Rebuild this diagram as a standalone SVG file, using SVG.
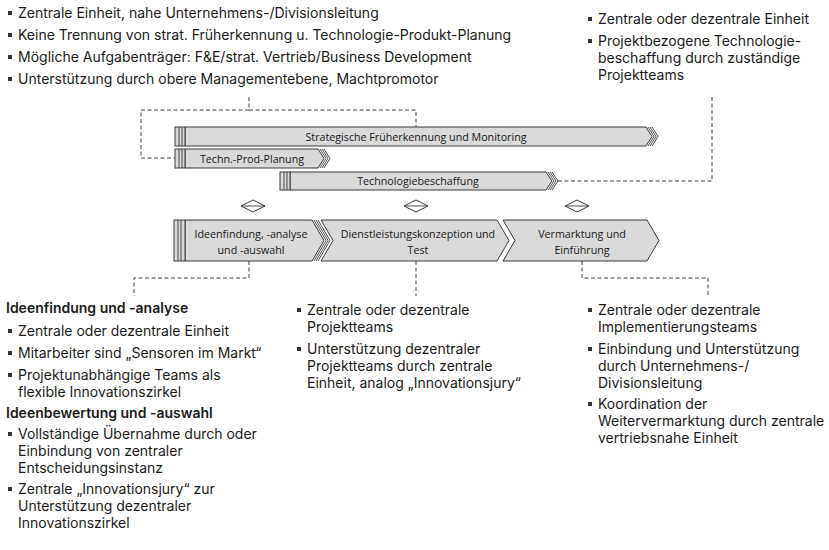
<svg xmlns="http://www.w3.org/2000/svg" width="829" height="550" viewBox="0 0 829 550">
<defs>
<style>
text{font-family:"Open Sans","Noto Sans","Liberation Sans",sans-serif;fill:#1a1a1a}
.t{font-family:Inter,"Open Sans","Liberation Sans",sans-serif;font-size:14px}
.h{font-family:Inter,"Open Sans","Liberation Sans",sans-serif;font-size:14px;font-weight:600}
.b{font-size:10.7px;text-anchor:middle}
.bar{fill:#d9d9d9;stroke:#3a3a3a;stroke-width:1}
.cap{fill:#d9d9d9;stroke:#3a3a3a;stroke-width:1}
.hatch{fill:none;stroke:#3a3a3a;stroke-width:0.9}
.dash{fill:none;stroke:#404040;stroke-width:1;stroke-dasharray:4 2.5}
.dia{fill:#fff;stroke:#3a3a3a;stroke-width:1}
.sq{fill:#333}
</style>
<symbol id="bul" overflow="visible"><rect class="sq" x="0" y="-7" width="4" height="4"/></symbol>
</defs>

<g id="connectors">
<polyline class="dash" points="249,97 249,110 416,110 416,127"/>
<polyline class="dash" points="249,110 141,110 141,158 175,158"/>
<polyline class="dash" points="558,181 712,181 712,97"/>
<polyline class="dash" points="249,261 249,278 134,278 134,296"/>
<polyline class="dash" points="416,261 416,296"/>
<polyline class="dash" points="582,261 582,278 708,278 708,296"/>
</g>

<g id="note-top-left">
<use href="#bul" x="8" y="18"/><text class="t" x="18" y="18">Zentrale Einheit, nahe Unternehmens-/Divisionsleitung</text>
<use href="#bul" x="8" y="40"/><text class="t" x="18" y="40">Keine Trennung von strat. Früherkennung u. Technologie-Produkt-Planung</text>
<use href="#bul" x="8" y="62"/><text class="t" x="18" y="62">Mögliche Aufgabenträger: F&amp;E/strat. Vertrieb/Business Development</text>
<use href="#bul" x="8" y="84"/><text class="t" x="18" y="84">Unterstützung durch obere Managementebene, Machtpromotor</text>
</g>

<g id="note-top-right">
<use href="#bul" x="588" y="24"/><text class="t" x="598" y="24">Zentrale oder dezentrale Einheit</text>
<use href="#bul" x="588" y="46"/><text class="t" x="598" y="46">Projektbezogene Technologie-</text>
<text class="t" x="598" y="63">beschaffung durch zuständige</text>
<text class="t" x="598" y="80">Projektteams</text>
</g>

<g id="bar-monitoring">
<polygon class="bar" points="185,127 646,127 652,136.5 646,146 185,146"/>
<polyline class="hatch" points="648,127 654,136.5 648,146"/>
<polyline class="hatch" points="650,127 656,136.5 650,146"/>
<polyline class="hatch" points="652,127 658,136.5 652,146"/>
<rect class="cap" x="175" y="127" width="10" height="19"/>
<line class="hatch" x1="179" y1="127" x2="179" y2="146"/>
<line class="hatch" x1="182" y1="127" x2="182" y2="146"/>
<text class="b" x="416" y="140.5">Strategische Früherkennung und Monitoring</text>
</g>

<g id="bar-planung">
<polygon class="bar" points="185,149 318,149 324,158.5 318,168 185,168"/>
<polyline class="hatch" points="320,149 326,158.5 320,168"/>
<polyline class="hatch" points="322,149 328,158.5 322,168"/>
<polyline class="hatch" points="324,149 330,158.5 324,168"/>
<rect class="cap" x="175" y="149" width="10" height="19"/>
<line class="hatch" x1="179" y1="149" x2="179" y2="168"/>
<line class="hatch" x1="182" y1="149" x2="182" y2="168"/>
<text class="b" x="252" y="162.5">Techn.-Prod-Planung</text>
</g>

<g id="bar-beschaffung">
<polygon class="bar" points="290,172 546,172 552,181 546,190 290,190"/>
<polyline class="hatch" points="548,172 554,181 548,190"/>
<polyline class="hatch" points="550,172 556,181 550,190"/>
<polyline class="hatch" points="552,172 558,181 552,190"/>
<rect class="cap" x="280" y="172" width="10" height="18"/>
<line class="hatch" x1="284" y1="172" x2="284" y2="190"/>
<line class="hatch" x1="287" y1="172" x2="287" y2="190"/>
<text class="b" x="418" y="185">Technologiebeschaffung</text>
</g>

<g id="diamonds">
<polygon class="dia" points="241,206 253,200 265,206 253,212"/><line class="hatch" x1="241" y1="206" x2="265" y2="206"/>
<polygon class="dia" points="404,206 416,200 428,206 416,212"/><line class="hatch" x1="404" y1="206" x2="428" y2="206"/>
<polygon class="dia" points="565,206 577,200 589,206 577,212"/><line class="hatch" x1="565" y1="206" x2="589" y2="206"/>
</g>

<g id="phase-ideen">
<polygon class="bar" points="185,220 312,220 324,240.5 312,261 185,261"/>
<polyline class="hatch" points="314,220 326,240.5 314,261"/>
<polyline class="hatch" points="316,220 328,240.5 316,261"/>
<polyline class="hatch" points="318,220 330,240.5 318,261"/>
<rect class="cap" x="174" y="220" width="11" height="41"/>
<line class="hatch" x1="178" y1="220" x2="178" y2="261"/>
<line class="hatch" x1="181" y1="220" x2="181" y2="261"/>
<text class="b" x="251" y="237.5">Ideenfindung, -analyse</text>
<text class="b" x="251" y="254">und -auswahl</text>
</g>

<g id="phase-dienst">
<polygon class="bar" points="321,220 497,220 509,240.5 497,261 321,261 333,240.5"/>
<text class="b" x="418" y="237.5">Dienstleistungskonzeption und</text>
<text class="b" x="418" y="254">Test</text>
</g>

<g id="phase-vermarktung">
<polygon class="bar" points="503,220 647,220 659,240.5 647,261 503,261 515,240.5"/>
<text class="b" x="582" y="237.5">Vermarktung und</text>
<text class="b" x="582" y="254">Einführung</text>
</g>

<g id="note-bottom-left">
<text class="h" x="6" y="313">Ideenfindung und -analyse</text>
<use href="#bul" x="8" y="336"/><text class="t" x="18" y="336">Zentrale oder dezentrale Einheit</text>
<use href="#bul" x="8" y="358"/><text class="t" x="18" y="358">Mitarbeiter sind „Sensoren im Markt“</text>
<use href="#bul" x="8" y="380"/><text class="t" x="18" y="380">Projektunabhängige Teams als</text>
<text class="t" x="18" y="397">flexible Innovationszirkel</text>
<text class="h" x="6" y="418">Ideenbewertung und -auswahl</text>
<use href="#bul" x="8" y="439"/><text class="t" x="18" y="439">Vollständige Übernahme durch oder</text>
<text class="t" x="18" y="456">Einbindung von zentraler</text>
<text class="t" x="18" y="473">Entscheidungsinstanz</text>
<use href="#bul" x="8" y="494"/><text class="t" x="18" y="494">Zentrale „Innovationsjury“ zur</text>
<text class="t" x="18" y="511">Unterstützung dezentraler</text>
<text class="t" x="18" y="528">Innovationszirkel</text>
</g>

<g id="note-bottom-middle">
<use href="#bul" x="297" y="315"/><text class="t" x="307" y="315">Zentrale oder dezentrale</text>
<text class="t" x="307" y="332">Projektteams</text>
<use href="#bul" x="297" y="354"/><text class="t" x="307" y="354">Unterstützung dezentraler</text>
<text class="t" x="307" y="371">Projektteams durch zentrale</text>
<text class="t" x="307" y="388">Einheit, analog „Innovationsjury“</text>
</g>

<g id="note-bottom-right">
<use href="#bul" x="588" y="315"/><text class="t" x="598" y="315">Zentrale oder dezentrale</text>
<text class="t" x="598" y="332">Implementierungsteams</text>
<use href="#bul" x="588" y="354"/><text class="t" x="598" y="354">Einbindung und Unterstützung</text>
<text class="t" x="598" y="371">durch Unternehmens-/</text>
<text class="t" x="598" y="388">Divisionsleitung</text>
<use href="#bul" x="588" y="409"/><text class="t" x="598" y="409">Koordination der</text>
<text class="t" x="598" y="426">Weitervermarktung durch zentrale</text>
<text class="t" x="598" y="443">vertriebsnahe Einheit</text>
</g>
</svg>
